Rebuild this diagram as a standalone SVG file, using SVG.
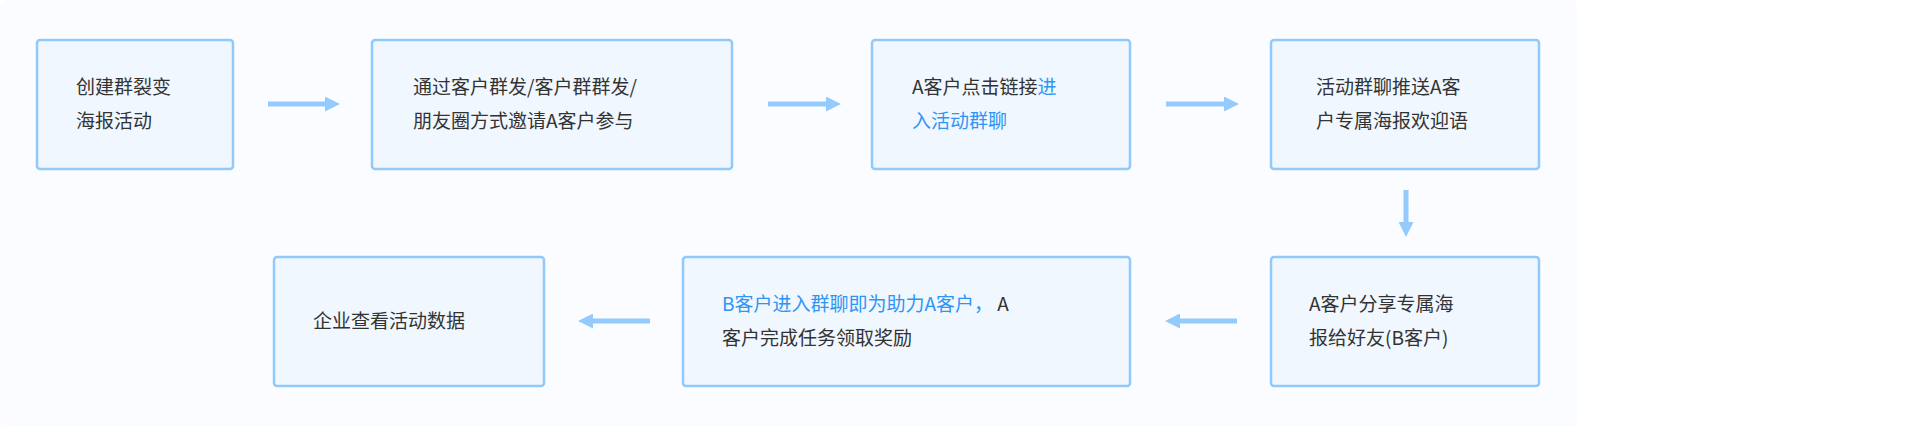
<svg xmlns="http://www.w3.org/2000/svg" width="1920" height="427" viewBox="0 0 1920 427">
<style>
.n{fill:#f0f7ff;stroke:#91c9fb;stroke-width:2.5}
.t{font-family:"Noto Sans CJK SC","Noto Sans",sans-serif;font-size:19px;fill:#333}
.b{fill:#2f95f5}
.c{stroke:#94cbfc;stroke-width:5;fill:none;marker-end:url(#ah)}
</style>
<defs><marker id="ah" viewBox="0 0 10 10" refX="2" refY="5" markerWidth="3" markerHeight="3" orient="auto" markerUnits="strokeWidth"><path d="M0,0L10,5L0,10z" fill="#94cbfc"/></marker></defs>
<rect x="0" y="0" width="1577" height="426" rx="6" fill="#fafcff"/>
<g id="connectors">
<path class="c" d="M268,104H328"/>
<path class="c" d="M768,104H829"/>
<path class="c" d="M1166,104H1227"/>
<path class="c" d="M1406,190V225"/>
<path class="c" d="M1237,321H1177"/>
<path class="c" d="M650,321H590"/>
</g>
<g id="n1"><rect class="n" x="37" y="40" width="196" height="129" rx="3"/><text class="t" x="76" y="94">创建群裂变</text><text class="t" x="76" y="128">海报活动</text></g>
<g id="n2"><rect class="n" x="372" y="40" width="360" height="129" rx="3"/><text class="t" x="413" y="94">通过客户群发/客户群群发/</text><text class="t" x="413" y="128">朋友圈方式邀请A客户参与</text></g>
<g id="n3"><rect class="n" x="872" y="40" width="258" height="129" rx="3"/><text class="t" x="912" y="94">A客户点击链接<tspan class="b">进</tspan></text><text class="t b" x="912" y="128">入活动群聊</text></g>
<g id="n4"><rect class="n" x="1271" y="40" width="268" height="129" rx="3"/><text class="t" x="1316" y="94">活动群聊推送A客</text><text class="t" x="1316" y="128">户专属海报欢迎语</text></g>
<g id="n5"><rect class="n" x="1271" y="257" width="268" height="129" rx="3"/><text class="t" x="1309" y="311">A客户分享专属海</text><text class="t" x="1309" y="345">报给好友(B客户)</text></g>
<g id="n6"><rect class="n" x="683" y="257" width="447" height="129" rx="3"/><text class="t" x="722" y="311"><tspan class="b">B客户进入群聊即为助力A客户，</tspan> A</text><text class="t" x="722" y="345">客户完成任务领取奖励</text></g>
<g id="n7"><rect class="n" x="274" y="257" width="270" height="129" rx="3"/><text class="t" x="313" y="328">企业查看活动数据</text></g>
</svg>
